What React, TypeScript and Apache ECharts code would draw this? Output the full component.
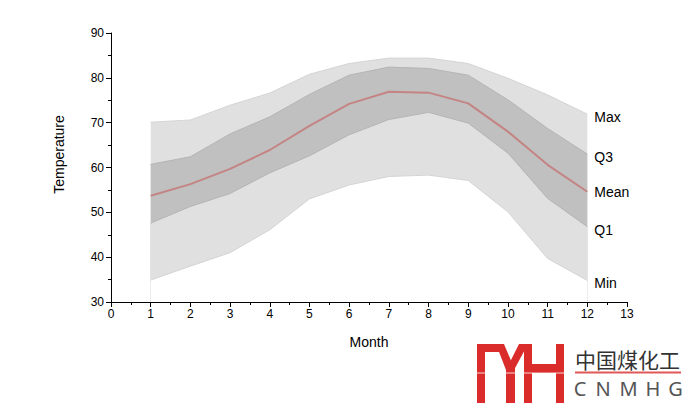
import React, { useEffect, useRef } from "react";
import * as echarts from "echarts";

const months = [1, 2, 3, 4, 5, 6, 7, 8, 9, 10, 11, 12];
const maxVals = [70.1, 70.6, 73.9, 76.6, 80.8, 83.2, 84.4, 84.4, 83.2, 79.9, 76.2, 71.9];
const q3Vals = [60.7, 62.4, 67.5, 71.3, 76.3, 80.6, 82.4, 82.1, 80.6, 75.1, 68.7, 63.0];
const meanVals = [53.7, 56.3, 59.7, 63.9, 69.3, 74.2, 76.9, 76.7, 74.3, 68.0, 60.6, 54.6];
const q1Vals = [47.6, 51.3, 54.2, 58.8, 62.6, 67.3, 70.7, 72.3, 69.9, 63.2, 53.1, 46.8];
const minVals = [34.9, 38.0, 41.0, 46.1, 53.0, 56.1, 58.0, 58.3, 57.1, 50.1, 39.7, 34.8];
const cnmhgLetters = ["C", "N", "M", "H", "G"];

const FONT = "'Liberation Sans', Arial, sans-serif";

export default function App() {
  const ref = useRef<HTMLDivElement>(null);
  useEffect(() => {
    if (!ref.current) return;
    const chart = echarts.init(ref.current, undefined, { renderer: "svg" });
    const pairs = (arr: number[]) => months.map((m, i) => [m, arr[i]]);
    const endLabel = (text: string, dy: number) => ({
      show: true,
      formatter: text,
      color: "#000",
      fontSize: 14,
      fontFamily: FONT,
      distance: 7,
      offset: [0, dy],
    });
    const band = (name: string, vals: number[], fill: string, line: string, z: number) => ({
      name,
      type: "line",
      data: pairs(vals),
      symbol: "none",
      lineStyle: { color: line, width: 1 },
      areaStyle: { color: fill, opacity: 1, origin: "start" },
      endLabel: endLabel(name, 3),
      z,
    });
    const red = "#da2c2a";
    const letterX = [580, 603, 628.5, 653, 675.5];
    const axisCommon = {
      axisLine: { show: true, onZero: false, lineStyle: { color: "#000", width: 1 } },
      axisTick: { show: true, length: 5, lineStyle: { color: "#000" } },
      minorTick: { show: true, splitNumber: 2, length: 3, lineStyle: { color: "#000" } },
      splitLine: { show: false },
      z: 10,
    };
    const option: any = {
      animation: false,
      grid: { left: 111, right: 60, top: 33, bottom: 107 },
      xAxis: {
        type: "value",
        min: 0,
        max: 13,
        interval: 1,
        name: "Month",
        nameLocation: "middle",
        nameGap: 33,
        nameTextStyle: { color: "#000", fontSize: 14, fontFamily: FONT },
        axisLabel: { color: "#000", fontSize: 12, fontFamily: FONT, margin: 6 },
        ...axisCommon,
      },
      yAxis: {
        type: "value",
        min: 30,
        max: 90,
        interval: 10,
        name: "Temperature",
        nameLocation: "middle",
        nameGap: 45,
        nameTextStyle: { color: "#000", fontSize: 14, fontFamily: FONT, padding: [0, 0, 0, 26] },
        axisLabel: { color: "#000", fontSize: 12, fontFamily: FONT, margin: 7 },
        ...axisCommon,
      },
      series: [
        band("Max", maxVals, "#e0e0e0", "#d4d4d4", 2),
        band("Q3", q3Vals, "#c0c0c0", "#b4b4b4", 3),
        band("Q1", q1Vals, "#e0e0e0", "#b4b4b4", 4),
        band("Min", minVals, "#ffffff", "#d4d4d4", 5),
        {
          name: "Mean",
          type: "line",
          data: pairs(meanVals),
          symbol: "none",
          lineStyle: { color: "#c48484", width: 2 },
          endLabel: endLabel("Mean", 0),
          z: 6,
        },
      ],
      graphic: [
        { type: "rect", shape: { x: 477, y: 344, width: 8, height: 59 }, style: { fill: red } },
        { type: "rect", shape: { x: 477, y: 344, width: 26, height: 8 }, style: { fill: red } },
        { type: "polygon", shape: { points: [[496, 344], [504, 344], [515, 370], [506, 370]] }, style: { fill: red } },
        { type: "polygon", shape: { points: [[519, 344], [528, 344], [514, 370], [506, 370]] }, style: { fill: red } },
        { type: "rect", shape: { x: 506, y: 368, width: 9, height: 35 }, style: { fill: red } },
        { type: "rect", shape: { x: 524, y: 344, width: 8, height: 59 }, style: { fill: red } },
        { type: "rect", shape: { x: 531, y: 364, width: 26, height: 9 }, style: { fill: red } },
        { type: "rect", shape: { x: 556, y: 344, width: 8, height: 59 }, style: { fill: red } },
        { type: "rect", shape: { x: 476, y: 372.5, width: 89, height: 1 }, style: { fill: "#ffffff", opacity: 0.8 } },
        {
          type: "text",
          x: 575,
          y: 359,
          style: {
            text: "中国煤化工",
            fontSize: 21,
            fontFamily: "'Noto Sans CJK SC', sans-serif",
            fill: "#333",
            verticalAlign: "middle",
            align: "left",
          },
        },
        { type: "rect", shape: { x: 575, y: 371.5, width: 106, height: 2 }, style: { fill: "#e05858" } },
        ...cnmhgLetters.map((ch, i) => ({
          type: "text",
          x: letterX[i],
          y: 388,
          style: {
            text: ch,
            fontSize: 20,
            fontFamily: "'Noto Sans', sans-serif",
            fill: "#555",
            align: "center",
            verticalAlign: "middle",
          },
        })),
      ],
    };
    chart.setOption(option);
    return () => chart.dispose();
  }, []);
  return (
    <div
      ref={ref}
      style={{ position: "fixed", left: 0, top: 0, width: 687, height: 409, background: "#fff" }}
    />
  );
}
